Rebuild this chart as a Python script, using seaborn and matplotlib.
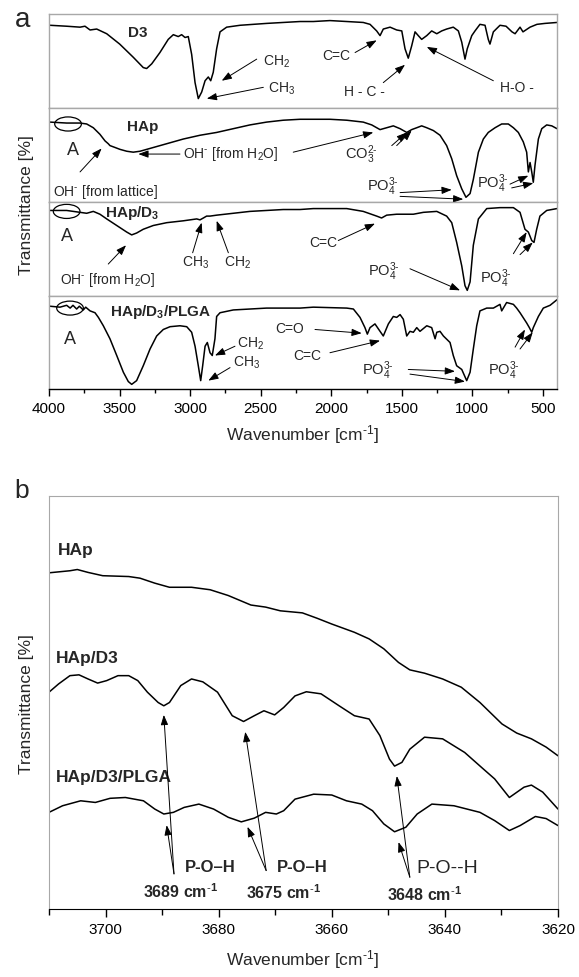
import matplotlib
matplotlib.use("Agg")
import matplotlib.pyplot as plt
from matplotlib.patches import Ellipse
from matplotlib.ticker import MultipleLocator
import seaborn as sns

sns.set_style("white")
plt.rcParams['font.family'] = ['Liberation Sans', 'DejaVu Sans']
plt.rcParams['mathtext.fontset'] = 'custom'
plt.rcParams['mathtext.rm'] = 'Liberation Sans'
plt.rcParams['mathtext.it'] = 'Liberation Sans:italic'
plt.rcParams['mathtext.bf'] = 'Liberation Sans:bold'
plt.rcParams['mathtext.default'] = 'regular'

# ---- panel a: full FTIR spectra (wavenumber, relative transmittance) ----
d3_wn = [3993, 3875, 3780, 3745, 3709, 3662, 3591, 3499, 3403, 3332, 3308, 3272, 3214, 3155, 3119,
         3084, 3060, 3036, 3013, 2989, 2965, 2942, 2918, 2894, 2871, 2854, 2836, 2812, 2788, 2741,
         2646, 2552, 2457, 2340, 2221, 2127, 2009, 1890, 1773, 1725, 1678, 1654, 1631, 1583, 1536,
         1500, 1477, 1454, 1430, 1406, 1383, 1359, 1323, 1288, 1252, 1217, 1182, 1135, 1099, 1075,
         1052, 1036, 1004, 981, 946, 910, 887, 875, 851, 804, 761, 719, 697, 662, 641, 591, 542, 485, 400]
d3_t = [88, 87, 86, 87, 83, 84, 79, 68, 54, 43, 42, 47, 59, 73, 78,
        76, 78, 75, 76, 57, 27, 10, 17, 29, 33, 29, 38, 63, 81, 86,
        88, 89, 90, 91, 92, 92, 93, 92, 91, 89, 82, 77, 84, 86, 83,
        82, 63, 53, 66, 81, 77, 73, 77, 82, 79, 82, 84, 86, 82, 70,
        52, 63, 77, 82, 89, 88, 73, 68, 81, 88, 87, 81, 79, 86, 81, 86, 89, 90, 91]

hap_wn = [3993, 3875, 3780, 3733, 3686, 3639, 3603, 3580, 3568, 3532, 3497, 3449, 3403, 3355, 3284,
          3166, 3048, 2930, 2812, 2694, 2576, 2458, 2340, 2221, 2127, 2009, 1890, 1773, 1713, 1654,
          1607, 1560, 1512, 1465, 1430, 1394, 1359, 1323, 1276, 1229, 1182, 1146, 1111, 1075, 1045,
          1016, 993, 957, 922, 887, 839, 792, 745, 709, 674, 639, 615, 603, 591, 579, 568, 556, 532,
          508, 473, 437, 400]
hap_t = [85, 84, 84, 83, 79, 72, 65, 62, 60, 58, 56, 54, 53, 54, 57,
         62, 67, 71, 74, 78, 82, 85, 87, 88, 88, 88, 87, 85, 82, 77,
         79, 81, 78, 74, 77, 79, 81, 79, 76, 71, 60, 46, 28, 14, 5,
         9, 24, 53, 67, 74, 79, 83, 83, 79, 74, 64, 53, 32, 42, 32, 21, 39, 67,
         78, 82, 81, 78]

hapd3_wn = [3993, 3875, 3780, 3733, 3686, 3639, 3591, 3520, 3449, 3414, 3379, 3332, 3261, 3166, 3048,
            2953, 2930, 2906, 2883, 2859, 2812, 2694, 2576, 2458, 2340, 2221, 2127, 1890, 1773, 1678,
            1643, 1607, 1536, 1418, 1347, 1252, 1182, 1146, 1111, 1075, 1052, 1036, 1016, 993, 957,
            898, 804, 709, 662, 627, 603, 579, 563, 544, 521, 473, 400]
hapd3_t = [91, 91, 89, 88, 90, 87, 82, 75, 68, 65, 67, 71, 75, 78, 80,
           82, 81, 83, 85, 85, 86, 88, 90, 91, 92, 92, 93, 93, 90, 85,
           83, 86, 87, 87, 89, 90, 85, 78, 57, 32, 11, 6, 15, 54, 82,
           93, 94, 94, 89, 71, 68, 59, 57, 71, 85, 91, 93]

plga_wn = [3993, 3922, 3875, 3850, 3830, 3804, 3785, 3757, 3740, 3709, 3674, 3650, 3615, 3568, 3520,
           3473, 3438, 3414, 3379, 3332, 3284, 3237, 3190, 3142, 3072, 3024, 2989, 2965, 2942, 2925,
           2911, 2894, 2878, 2859, 2843, 2824, 2812, 2788, 2694, 2576, 2458, 2340, 2221, 2127, 1890,
           1843, 1796, 1761, 1744, 1725, 1690, 1654, 1631, 1595, 1560, 1536, 1512, 1489, 1465, 1442,
           1418, 1394, 1371, 1323, 1288, 1264, 1252, 1229, 1205, 1158, 1135, 1111, 1075, 1040, 1016,
           993, 969, 946, 898, 851, 804, 792, 757, 709, 686, 662, 615, 596, 579, 568, 532, 497, 449, 400]
plga_t = [89, 88, 90, 87, 90, 86, 89, 85, 88, 84, 82, 77, 68, 54, 36,
          18, 8, 5, 9, 25, 43, 57, 64, 67, 68, 67, 61, 46, 25, 9,
          25, 46, 50, 39, 36, 54, 78, 82, 85, 86, 87, 87, 87, 88, 87,
          86, 77, 66, 59, 66, 70, 62, 57, 70, 78, 77, 80, 75, 57, 62,
          61, 66, 62, 68, 66, 54, 61, 62, 57, 50, 36, 25, 21, 9, 18,
          43, 68, 84, 87, 87, 91, 84, 93, 91, 87, 82, 71, 66, 61, 66, 78, 87, 90, 96]

a_ticks = [4000, 3500, 3000, 2500, 2000, 1500, 1000, 500]

# ---- panel b: OH region ----
b_hap_wn = [3710, 3706.3, 3705.0, 3703.1, 3700.5, 3695.9, 3693.9, 3691.3, 3688.7, 3684.8, 3681.5,
            3678.3, 3674.3, 3671.7, 3669.1, 3665.2, 3662.6, 3660.0, 3656.0, 3653.4, 3650.8, 3648.2,
            3646.2, 3643.6, 3640.4, 3637.1, 3633.8, 3629.9, 3627.3, 3624.7, 3622.1, 3620.0]
b_hap_t = [81.4, 81.9, 82.2, 81.5, 80.7, 80.5, 80.1, 78.9, 77.9, 77.9, 77.3,
           75.9, 73.6, 73.1, 72.2, 71.7, 70.4, 69.0, 67.0, 65.4, 63.0, 59.7,
           57.9, 57.1, 55.7, 53.7, 50.0, 44.8, 42.6, 41.2, 39.2, 37.1]
b_hapd3_wn = [3710, 3708.3, 3706.3, 3704.7, 3703.1, 3701.4, 3699.8, 3697.8, 3695.9, 3694.3, 3692.6,
              3690.7, 3689.7, 3688.7, 3686.7, 3684.8, 3682.8, 3680.2, 3677.6, 3675.6, 3673.7, 3672.0,
              3670.1, 3668.5, 3666.5, 3664.5, 3661.9, 3658.7, 3656.0, 3653.4, 3651.5, 3649.8, 3648.9,
              3647.6, 3646.2, 3643.6, 3640.4, 3636.5, 3633.2, 3631.2, 3628.6, 3626.0, 3624.7, 3622.7, 3620.0]
b_hapd3_t = [52.5, 54.5, 56.5, 56.7, 55.7, 54.7, 55.3, 56.5, 56.5, 55.3, 52.5,
             50.0, 49.2, 50.0, 54.1, 55.7, 55.0, 52.5, 46.8, 45.4, 46.8, 48.0,
             47.0, 48.8, 51.6, 52.6, 52.1, 49.2, 46.8, 46.0, 42.0, 36.3, 34.6,
             35.5, 38.7, 41.6, 41.2, 37.9, 33.9, 31.5, 27.0, 29.5, 30.0, 28.3, 24.2]
b_plga_wn = [3710, 3707.6, 3704.4, 3701.8, 3699.2, 3696.5, 3693.3, 3691.3, 3689.7, 3688.0, 3686.1,
             3683.5, 3680.9, 3678.3, 3676.0, 3673.7, 3671.7, 3669.8, 3668.5, 3666.5, 3663.2, 3660.0,
             3657.4, 3654.7, 3652.8, 3650.8, 3648.9, 3646.9, 3644.9, 3642.3, 3638.4, 3633.8, 3631.2,
             3628.6, 3626.7, 3624.0, 3622.1, 3620.0]
b_plga_t = [23.4, 25.0, 26.2, 25.8, 26.8, 27.0, 26.2, 24.2, 23.0, 23.4, 24.6,
            25.4, 24.2, 22.2, 21.1, 22.0, 23.4, 23.0, 23.8, 26.6, 27.8, 27.6,
            26.2, 25.4, 23.8, 20.6, 18.7, 19.8, 23.0, 25.4, 25.0, 23.4, 21.4,
            19.0, 20.2, 22.4, 21.9, 20.2]
b_ticks = [3700, 3680, 3660, 3640, 3620]

GREY = '#a8a8a8'
W, H = 579, 978
PO4 = r"PO$_4^{3\text{-}}$"
CM = r"cm$^{\text{-}1}$"


def rect(l, t, r, b):
    return [l / W, 1 - b / H, (r - l) / W, (b - t) / H]


def arrow(ax, tail, head):
    ax.annotate("", xy=head, xytext=tail,
                arrowprops=dict(arrowstyle='-|>,head_length=0.6,head_width=0.22',
                                color='k', lw=0.7, shrinkA=0, shrinkB=0))


fig = plt.figure(figsize=(W / 100, H / 100), dpi=100)

rows = [(d3_wn, d3_t, 15, 109), (hap_wn, hap_t, 109, 203),
        (hapd3_wn, hapd3_t, 203, 297), (plga_wn, plga_t, 297, 390)]
axs = []
for i, (wn, t, top, bot) in enumerate(rows):
    ax = fig.add_axes(rect(49, top, 557, bot))
    sns.lineplot(x=wn, y=t, ax=ax, color='k', lw=1.1, estimator=None, errorbar=None)
    ax.set_xlim(4000, 400)
    ax.set_ylim(0, 100)
    ax.set_yticks([])
    for s in ax.spines.values():
        s.set_color(GREY)
        s.set_linewidth(1.0)
    if i < 3:
        ax.set_xticks([])
    else:
        ax.spines['bottom'].set_color('k')
        ax.set_xticks(a_ticks)
        ax.xaxis.set_minor_locator(MultipleLocator(250))
        ax.tick_params(axis='x', which='both', direction='out', bottom=True, colors='k',
                       labelsize=11, width=1)
        ax.tick_params(axis='x', which='major', length=5)
        ax.tick_params(axis='x', which='minor', length=3)
    axs.append(ax)

fs = 10
ax = axs[0]
ax.text(3370, 81, "D3", fontsize=11, fontweight='bold', ha='center', va='center')
ax.text(2483, 50, "CH$_2$", fontsize=fs, va='center')
arrow(ax, (2528, 52), (2776, 29))
ax.text(2448, 22, "CH$_3$", fontsize=fs, va='center')
arrow(ax, (2481, 22), (2882, 10))
ax.text(1966, 56, "C=C", fontsize=fs, ha='center', va='center')
arrow(ax, (1831, 59), (1678, 72))
ax.text(1768, 18, "H - C -", fontsize=fs, ha='center', va='center')
arrow(ax, (1631, 27), (1477, 46))
ax.text(683, 22, "H-O -", fontsize=fs, ha='center', va='center')
arrow(ax, (851, 29), (1323, 65))

ax = axs[1]
ax.text(3334, 81, "HAp", fontsize=11, fontweight='bold', ha='center', va='center')
ax.add_patch(Ellipse((3865, 83), 189, 15, fill=False, ec='k', lw=0.9))
ax.text(3830, 56, "A", fontsize=13, ha='center', va='center')
ax.text(3972, 12, r"OH$^{\text{-}}$ [from lattice]", fontsize=fs, va='center')
arrow(ax, (3780, 32), (3627, 57))
ax.text(3050, 52, r"OH$^{\text{-}}$ [from H$_2$O]", fontsize=fs, va='center')
arrow(ax, (3072, 51), (3367, 51))
arrow(ax, (2269, 53), (1702, 74))
ax.text(1902, 51, r"CO$_3^{2\text{-}}$", fontsize=10.5, va='center')
arrow(ax, (1571, 60), (1465, 74))
arrow(ax, (1536, 60), (1430, 76))
ax.text(1748, 17, PO4, fontsize=10.5, va='center')
arrow(ax, (1512, 10), (1146, 13))
arrow(ax, (1512, 6), (1064, 3))
ax.text(969, 21, PO4, fontsize=10.5, va='center')
arrow(ax, (733, 19), (603, 28))
arrow(ax, (721, 15), (568, 20))

ax = axs[2]
ax.text(3603, 89, r"$\mathbf{HAp/D_3}$", fontsize=11, va='center')
ax.add_patch(Ellipse((3875, 90), 189, 15, fill=False, ec='k', lw=0.9))
ax.text(3875, 64, "A", fontsize=13, ha='center', va='center')
ax.text(3922, 18, r"OH$^{\text{-}}$ [from H$_2$O]", fontsize=fs, va='center')
arrow(ax, (3580, 34), (3454, 54))
ax.text(2965, 36, "CH$_3$", fontsize=fs, ha='center', va='center')
arrow(ax, (2982, 46), (2918, 78))
ax.text(2661, 36, "CH$_2$", fontsize=fs, ha='center', va='center')
arrow(ax, (2729, 46), (2812, 80))
ax.text(2060, 57, "C=C", fontsize=fs, ha='center', va='center')
arrow(ax, (1950, 59), (1690, 77))
ax.text(1737, 27, PO4, fontsize=10.5, va='center')
arrow(ax, (1442, 29), (1087, 6))
ax.text(946, 20, PO4, fontsize=10.5, va='center')
arrow(ax, (709, 45), (615, 68))
arrow(ax, (662, 44), (572, 57))

ax = axs[3]
ax.text(3568, 84, r"$\mathbf{HAp/D_3/PLGA}$", fontsize=11, va='center')
ax.add_patch(Ellipse((3851, 87), 189, 15, fill=False, ec='k', lw=0.9))
ax.text(3851, 54, "A", fontsize=13, ha='center', va='center')
ax.text(2670, 50, "CH$_2$", fontsize=fs, va='center')
arrow(ax, (2682, 46), (2824, 36))
ax.text(2696, 29, "CH$_3$", fontsize=fs, va='center')
arrow(ax, (2717, 23), (2871, 9))
ax.text(2292, 66, "C=O", fontsize=fs, ha='center', va='center')
arrow(ax, (2115, 64), (1784, 60))
ax.text(2167, 37, "C=C", fontsize=fs, ha='center', va='center')
arrow(ax, (2009, 39), (1654, 52))
ax.text(1784, 21, PO4, fontsize=10.5, va='center')
arrow(ax, (1454, 21), (1123, 19))
arrow(ax, (1442, 16), (1052, 8))
ax.text(887, 21, PO4, fontsize=10.5, va='center')
arrow(ax, (697, 45), (627, 64))
arrow(ax, (662, 43), (572, 61))

fig.text(27 / W, 1 - 205 / H, "Transmittance [%]", rotation=90, ha='center', va='center', fontsize=12.5)
fig.text(303 / W, 1 - 435 / H, "Wavenumber [" + CM + "]", ha='center', va='center', fontsize=12.5)
fig.text(23 / W, 1 - 20 / H, "a", ha='center', va='center', fontsize=20)

# ---- panel b ----
axb = fig.add_axes(rect(49, 497, 558, 910))
for wn, t in [(b_hap_wn, b_hap_t), (b_hapd3_wn, b_hapd3_t), (b_plga_wn, b_plga_t)]:
    sns.lineplot(x=wn, y=t, ax=axb, color='k', lw=1.1, estimator=None, errorbar=None)
axb.set_xlim(3710, 3620)
axb.set_ylim(0, 100)
axb.set_yticks([])
for s in axb.spines.values():
    s.set_color(GREY)
axb.spines['bottom'].set_color('k')
axb.set_xticks(b_ticks)
axb.xaxis.set_minor_locator(MultipleLocator(10))
axb.tick_params(axis='x', which='both', direction='out', bottom=True, colors='k', labelsize=11, width=1)
axb.tick_params(axis='x', which='major', length=6)
axb.tick_params(axis='x', which='minor', length=4)

axb.text(3708.5, 87, "HAp", fontsize=12.5, fontweight='bold', va='center')
axb.text(3708.8, 61, "HAp/D3", fontsize=12.5, fontweight='bold', va='center')
axb.text(3708.8, 32, "HAp/D3/PLGA", fontsize=12.5, fontweight='bold', va='center')

arrow(axb, (3687.9, 8.5), (3689.7, 47.0))
arrow(axb, (3687.9, 8.5), (3689.2, 20.3))
arrow(axb, (3671.6, 9.3), (3675.3, 42.9))
arrow(axb, (3671.6, 9.3), (3674.9, 19.9))
arrow(axb, (3646.2, 7.7), (3648.5, 32.2))
arrow(axb, (3646.2, 7.7), (3648.2, 16.2))

axb.text(3681.5, 10.4, "P-O\u2013H", fontsize=12, fontweight='bold', ha='center', va='center')
axb.text(3686.7, 4.4, r"$\mathbf{3689\ cm^{\text{-}1}}$", fontsize=11.5, ha='center', va='center')
axb.text(3665.2, 10.4, "P-O\u2013H", fontsize=12, fontweight='bold', ha='center', va='center')
axb.text(3668.5, 4.1, r"$\mathbf{3675\ cm^{\text{-}1}}$", fontsize=11.5, ha='center', va='center')
axb.text(3639.6, 10.0, "P-O--H", fontsize=14, ha='center', va='center')
axb.text(3643.6, 3.6, r"$\mathbf{3648\ cm^{\text{-}1}}$", fontsize=11.5, ha='center', va='center')

fig.text(27 / W, 1 - 704 / H, "Transmittance [%]", rotation=90, ha='center', va='center', fontsize=12.5)
fig.text(303 / W, 1 - 960 / H, "Wavenumber [" + CM + "]", ha='center', va='center', fontsize=12.5)
fig.text(22 / W, 1 - 491 / H, "b", ha='center', va='center', fontsize=19)

fig.savefig("out.png", dpi=100)
